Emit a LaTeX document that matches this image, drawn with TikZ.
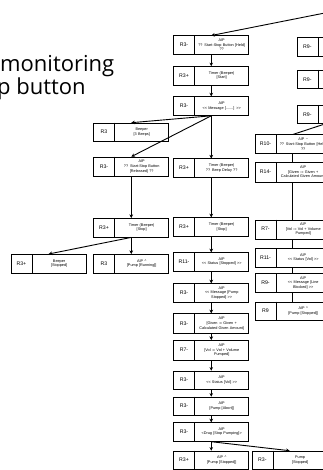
\documentclass[tikz,border=0pt]{standalone}
\usepackage{fontspec}
\setmainfont{Liberation Sans}
\newfontfamily\titlefont{Open Sans}
\usetikzlibrary{arrows.meta}

\tikzset{
  boxframe/.style={draw=black, line width=0.9pt, minimum width=75pt, inner sep=0pt},
  labcell/.style={minimum width=21pt, inner sep=0pt, font=\fontsize{5.2}{6}\selectfont},
  txtcell/.style={text width=54pt, align=center, inner sep=0pt, font=\fontsize{3.8}{4.6}\selectfont},
  flow/.style={line width=0.9pt, -{Stealth[length=3.6pt,width=3.6pt]}},
  link/.style={line width=0.9pt},
  title/.style={anchor=base west, inner sep=0pt, font=\titlefont\fontsize{22}{26}\selectfont},
}

% #1 height, #2 name, #3 top-left corner, #4 requirement tag, #5 behaviour text
\newcommand\stagebox[5][18.5]{%
  \node[boxframe, minimum height=#1pt, anchor=north west] (#2) at #3 {};
  \node[labcell, minimum height=#1pt, anchor=north west] (#2-l) at (#2.north west) {#4};
  \draw[line width=0.9pt] (#2-l.north east) -- (#2-l.south east);
  \node[txtcell] (#2-t) at ([xshift=27pt]#2-l.east) {#5};
}

\begin{document}
\begin{tikzpicture}[x=1pt,y=-1pt]
\useasboundingbox (0,0) rectangle (323,470);
\clip (0,0) rectangle (323,470);

\node[title] (t1) at (0,72) {monitoring};
\node[title] (t2) at (-3,95) {p button};

% main thread
\stagebox{A1}{(173.3,35.5)}{R3-}{AIP\\?? Start-Stop Button [Held]\\??}
\stagebox{A2}{(173.3,66.2)}{R3+}{Timer (Beeper)\\{}[Start]}
\stagebox{A3}{(173.3,96.4)}{R3-}{AIP\\<{}< Message [.......] >{}>}
\stagebox{A4}{(173.3,158.5)}{R3+}{Timer (Beeper)\\?? Beep Delay ??}
\stagebox{A5}{(173.3,217.3)}{R3+}{Timer (Beeper)\\{}[Stop]}
\stagebox{A6}{(173.3,252.3)}{R11-}{AIP\\<{}< Status [Stopped] >{}>}
\stagebox{A7}{(173.3,283.3)}{R3-}{AIP\\<{}< Message [Pump\\Stopped] >{}>}
\stagebox[20]{A8}{(173.3,313.3)}{R3-}{AIP\\{}[Given := Given +\\Calculated Given Amount]}
\stagebox[20]{A9}{(173.3,340)}{R7-}{AIP\\{}[Vol := Vol + Volume\\Pumped]}
\stagebox{A10}{(173.3,370.7)}{R3-}{AIP\\<{}< Status [Vol] >{}>}
\stagebox{A11}{(173.3,396.7)}{R3-}{AIP\\{}[Pump [Abort]]}
\stagebox{A12}{(173.3,422.3)}{R3-}{AIP\\<Drug [Stop Pumping]>}
\stagebox{A13}{(173.3,450.7)}{R3+}{AIP \textasciicircum\\{}[Pump [Stopped]]}

% beeper branch
\stagebox{B1}{(93.3,122.7)}{R3}{Beeper\\{}[3 Beeps]}
\stagebox[19.5]{B2}{(93.3,156.7)}{R3-}{AIP\\?? Start-Stop Button\\{}[Released] ??}
\stagebox{B3}{(93.3,218)}{R3+}{Timer (Beeper)\\{}[Stop]}
\stagebox{B4}{(93.3,254)}{R3}{AIP \textasciicircum\\{}[Pump [Running]]}
\stagebox{C1}{(10.7,254)}{R3+}{Beeper\\{}[Stopped]}
\stagebox{D1}{(251.7,450.7)}{R3-}{Pump\\{}[Stopped]}

% right-hand thread
\stagebox{S1}{(296.7,37.5)}{R9-}{}
\stagebox{S2}{(296.7,70)}{R9-}{}
\stagebox{S3}{(296.7,104.8)}{R9-}{}
\stagebox[19]{R1}{(254.8,134.5)}{R10-}{AIP \textasciitilde\\?? Start-Stop Button [Held]\\??}
\stagebox[19.5]{R2}{(254.8,162.2)}{R14-}{AIP\\{}[Given := Given +\\Calculated Given Amount]}
\stagebox[19]{R3}{(254.8,219.5)}{R7-}{AIP\\{}[Vol := Vol + Volume\\Pumped]}
\stagebox{R4}{(254.8,248)}{R11-}{AIP\\<{}< Status [Vol] >{}>}
\stagebox{R5}{(254.8,273.3)}{R9-}{AIP\\<{}< Message [Line\\Blocked] >{}>}
\stagebox{R6}{(254.8,301.7)}{R9}{AIP \textasciicircum\\{}[Pump [Stopped]]}

% connectors
\coordinate (inA) at (340,10);
\coordinate (inR) at (340,119);
\draw[flow] (inA) -- (A1.north);
\draw[flow] (A1.south) -- (A2.north);
\draw[flow] (A2.south) -- (A3.north);
\draw[flow] (A3.south) -- (B1.north);
\draw[flow] (A3.south) -- (B2.north);
\draw[flow] (A3.south) -- (A4.north);
\draw[flow] (B2.south) -- (B3.north);
\draw[flow] (B3.south) -- (B4.north);
\draw[flow] (B3.south) -- (C1.north);
\draw[flow] (A4.south) -- (A5.north);
\draw[flow] (A5.south) -- (A6.north);
\draw[flow] (A6.south) -- (A7.north);
\draw[flow] (A7.south) -- (A8.north);
\draw[flow] (A8.south) -- (A9.north);
\draw[flow] (A9.south) -- (A10.north);
\draw[flow] (A10.south) -- (A11.north);
\draw[flow] (A11.south) -- (A12.north);
\draw[flow] (A12.south) -- (A13.north);
\draw[flow] (A12.south) -- (D1.north);
\draw[link] (inR) -- (R1.north);
\draw[link] (R1.south) -- (R2.north);
\draw[link] (R2.south) -- (R3.north);
\draw[link] (R3.south) -- (R4.north);
\draw[link] (R4.south) -- (R5.north);
\draw[link] (R5.south) -- (R6.north);
\end{tikzpicture}
\end{document}
